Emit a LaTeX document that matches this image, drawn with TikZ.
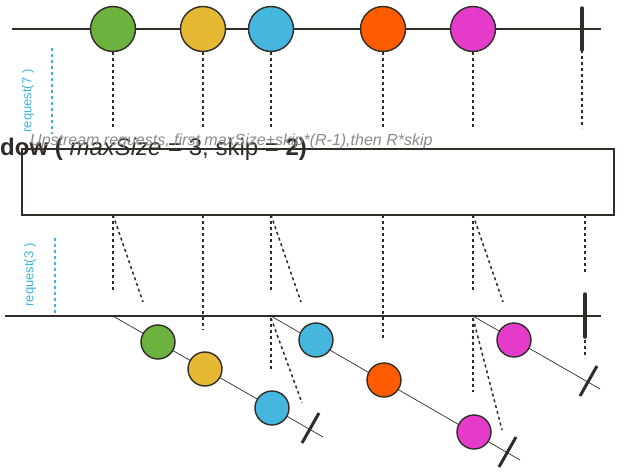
\documentclass[tikz,border=0pt]{standalone}
\usepackage{fontspec}
\setmainfont{Liberation Sans}
\usetikzlibrary{positioning}
\definecolor{LineDark}{HTML}{302C28}
\definecolor{ReqBlue}{HTML}{3DB5DA}
\definecolor{HintGray}{HTML}{8A8A8A}
\definecolor{MGreen}{HTML}{6BB33E}
\definecolor{MYellow}{HTML}{E5B933}
\definecolor{MBlue}{HTML}{45B7DE}
\definecolor{MOrange}{HTML}{FF5B00}
\definecolor{MPink}{HTML}{E53BCB}

\begin{document}
\begin{tikzpicture}[x=1pt, y=-1pt,
	marble/.style={circle, draw=LineDark, line width=1.4pt, inner sep=0pt, minimum size=45pt},
	marblesm/.style={marble, minimum size=34pt},
	timeline/.style={LineDark, line width=1.6pt},
	winline/.style={LineDark, line width=0.7pt},
	dots/.style={LineDark, line width=1.5pt, dash pattern=on 3pt off 3pt},
	reqline/.style={ReqBlue, line width=1.5pt, dash pattern=on 3pt off 3pt},
	endbar/.style={LineDark, line width=3.5pt, line cap=round},
	slashbar/.style={LineDark, line width=3pt}]
	\useasboundingbox (0,0) rectangle (633,472);
	% source
	\coordinate (srcL) at (12,29);
	\coordinate (srcR) at (601,29);
	\draw[timeline] (srcL) -- (srcR);
	\coordinate (srcEndT) at (582,8);
	\coordinate (srcEndB) at (582,50);
	\coordinate (srcEndD) at (582,128);
	\draw[dots] (srcEndB) -- (srcEndD);
	\draw[endbar] (srcEndT) -- (srcEndB);
	\foreach \n/\x/\c in {g/113/MGreen, y/203/MYellow, b/271/MBlue, o/383/MOrange, m/473/MPink} {
		\node[marble, fill=\c] (src\n) at (\x,29) {};
		\coordinate (src\n d) at (\x,128);
		\draw[dots] (src\n.south) -- (src\n d);
	}
	% request(7)
	\coordinate (reqA1) at (52,48);
	\coordinate (reqA2) at (52,134);
	\draw[reqline] (reqA1) -- (reqA2);
	\node[rotate=90, text=ReqBlue, font=\fontsize{13}{14}\selectfont, inner sep=0pt] (reqA) at (28,101) {request(7 )};
	% operator box
	\node[anchor=base west, inner sep=0pt, text=LineDark, font=\fontsize{24}{26}\selectfont] (title) at (0,155)
		{\textbf{dow (} \textit{maxSize} = 3, skip = \textbf{2)}};
	\node[draw=LineDark, line width=2pt, anchor=north west, minimum width=592pt, minimum height=66pt, inner sep=0pt] (win) at (21,148) {};
	\node[anchor=base west, inner sep=0pt, text=HintGray, font=\itshape\fontsize{16}{17}\selectfont] (hint) at (30,145)
		{Upstream requests, first maxSize+skip*(R-1),then R*skip};
	% request(3)
	\coordinate (reqB1) at (55,238);
	\coordinate (reqB2) at (55,316);
	\draw[reqline] (reqB1) -- (reqB2);
	\node[rotate=90, text=ReqBlue, font=\fontsize{13}{14}\selectfont, inner sep=0pt] (reqB) at (30,275) {request(3 )};
	% output
	\coordinate (outL) at (5,316);
	\coordinate (outR) at (601,316);
	\draw[timeline] (outL) -- (outR);
	\foreach \x in {113,271,473} {
		\draw[dots] (\x,215) -- (\x,292);
		\draw[dots] (\x,215) -- (\x+30,302);
	}
	\draw[dots] (203,215) -- (203,330);
	\draw[dots] (383,215) -- (383,338);
	\draw[dots] (585,215) -- (585,272);
	\draw[dots] (585,340) -- (585,358);
	\draw[endbar] (585,294) -- (585,337);
	% windows
	\draw[winline] (113,316) -- (323,437);
	\draw[winline] (271,316) -- (520,460);
	\draw[winline] (473,316) -- (600,389);
	\draw[dots] (271,318) -- (271,370);
	\draw[dots] (271,318) -- (302,403);
	\draw[dots] (473,318) -- (473,392);
	\draw[dots] (473,318) -- (502,430);
	\draw[slashbar] (302,443) -- (319,413);
	\draw[slashbar] (499,467) -- (516,437);
	\draw[slashbar] (580,396) -- (597,366);
	\node[marblesm, fill=MGreen] (wg1) at (158,342) {};
	\node[marblesm, fill=MYellow] (wy1) at (205,369) {};
	\node[marblesm, fill=MBlue] (wb1) at (272,408) {};
	\node[marblesm, fill=MBlue] (wb2) at (316,340) {};
	\node[marblesm, fill=MOrange] (wo2) at (384,380) {};
	\node[marblesm, fill=MPink] (wm2) at (474,432) {};
	\node[marblesm, fill=MPink] (wm3) at (514,340) {};
\end{tikzpicture}
\end{document}
